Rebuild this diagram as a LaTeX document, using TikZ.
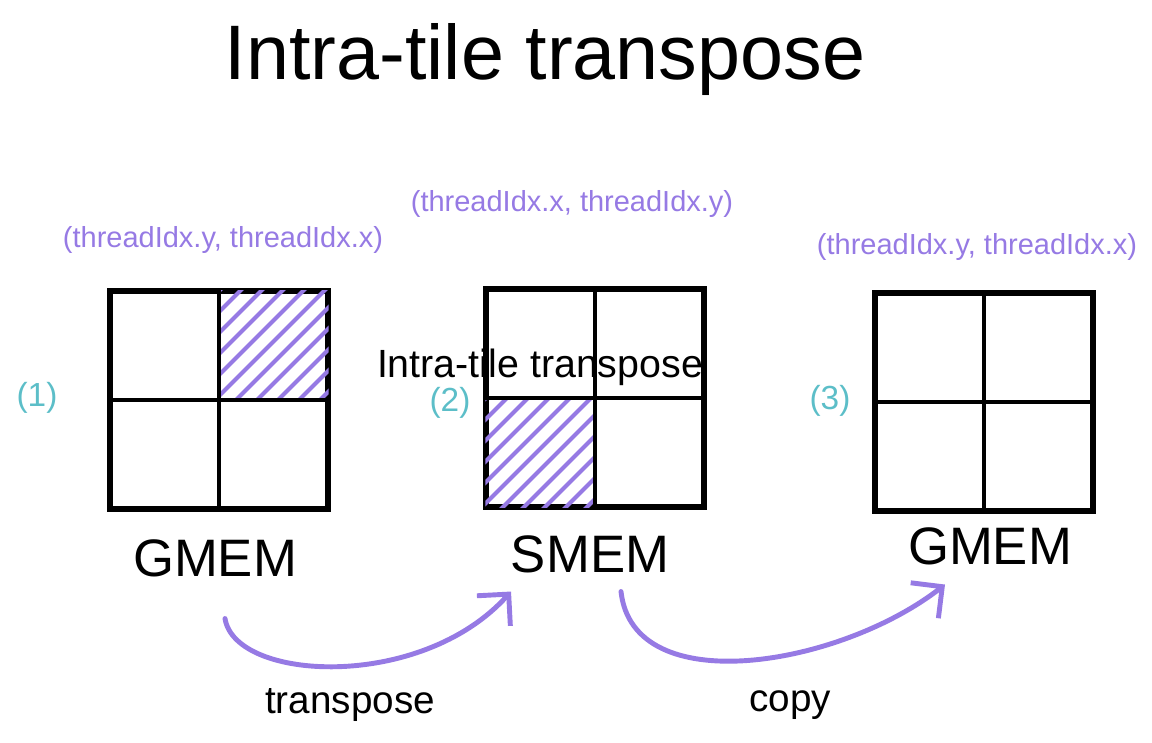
\documentclass[tikz,border=0pt]{standalone}
\usepackage{fontspec}
\setmainfont{Liberation Sans}
\usetikzlibrary{arrows.meta,calc}
\definecolor{tpurple}{RGB}{150,122,228}
\definecolor{tteal}{RGB}{92,190,200}

\begin{document}
\begin{tikzpicture}[x=0.02cm,y=-0.02cm,
  tile/.style={draw,line width=2.9pt,minimum size=4.36cm,inner sep=0pt},
  divider/.style={line width=2.4pt},
  hatch/.style={tpurple,line width=2.4pt,line cap=round},
  idx/.style={tpurple,font=\fontsize{16.5}{18}\selectfont,anchor=base,inner sep=0pt},
  numlab/.style={tteal,font=\fontsize{19}{21}\selectfont,inner sep=0pt},
  mem/.style={font=\fontsize{30}{32}\selectfont,anchor=base,inner sep=0pt},
  op/.style={font=\fontsize{22}{24}\selectfont,inner sep=0pt},
  flow/.style={tpurple,line width=2.8pt,line cap=round,line join=round,
    -{Straight Barb[length=4.5mm,width=9mm]}}
]
  \useasboundingbox (0,0) rectangle (1152,743);

  % Title
  \node[font=\fontsize{44}{48}\selectfont,anchor=base,inner sep=0pt] (title) at (545,80) {Intra-tile transpose};

  % Tiles
  \node[tile] (tileA) at (219,400) {};
  \node[tile] (tileB) at (595,398) {};
  \node[tile] (tileC) at (984,402) {};

  % Hatched cells
  \begin{scope}
    \clip ($(tileA.center)+(2,-2)$) rectangle ($(tileA.north east)+(-2,2)$);
    \foreach \k in {0,...,12}
      \draw[hatch] ($(tileA.center)+(21*\k-130,0)$) -- ++(160,-160);
  \end{scope}
  \begin{scope}
    \clip ($(tileB.west)+(2,2)$) rectangle ($(tileB.south)+(-2,-2)$);
    \foreach \k in {0,...,12}
      \draw[hatch] ($(tileB.south west)+(21*\k-130,0)$) -- ++(160,-160);
  \end{scope}

  % Cell dividers
  \foreach \t in {tileA,tileB,tileC} {
    \draw[divider] (\t.north) -- (\t.south);
    \draw[divider] (\t.west) -- (\t.east);
  }

  \node[font=\fontsize{22.4}{24}\selectfont,anchor=base,inner sep=0pt] (note) at (540,377) {Intra-tile transpose};

  % Index labels
  \node[idx] (idxA) at (223,247) {(threadIdx.y, threadIdx.x)};
  \node[idx] (idxB) at (572,212) {(threadIdx.x, threadIdx.y)};
  \node[idx] (idxC) at (977,255) {(threadIdx.y, threadIdx.x)};

  % Step numbers
  \node[numlab] (numA) at (37,398) {(1)};
  \node[numlab] (numB) at (450,403) {(2)};
  \node[numlab] (numC) at (830,401) {(3)};

  % Memory names
  \node[mem] (memA) at (215,576) {GMEM};
  \node[mem] (memB) at (590,572) {SMEM};
  \node[mem] (memC) at (990,564) {GMEM};

  % Operations
  \draw[flow] ($(tileA.south)+(6,107)$) .. controls +(10,63) and +(-90,100) .. ($(tileB.south)+(-84,82)$);
  \draw[flow] ($(tileB.south)+(26,82)$) .. controls +(12,110) and +(-105,82) .. ($(tileC.south)+(-39,71)$);
  \node[op] (opA) at (350,705) {transpose};
  \node[op] (opB) at (790,705) {copy};
\end{tikzpicture}
\end{document}
